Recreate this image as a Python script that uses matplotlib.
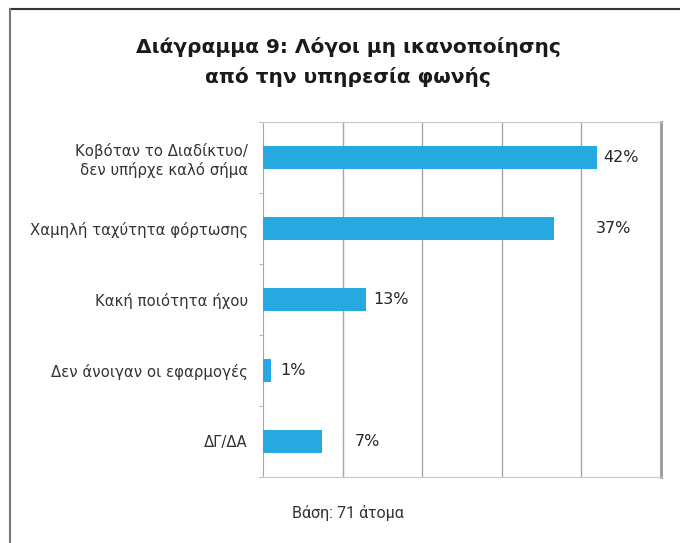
import matplotlib
matplotlib.use("Agg")
import matplotlib.pyplot as plt
from matplotlib.lines import Line2D

# ---- data ----
categories = [
    "Κοβόταν το Διαδίκτυο/\nδεν υπήρχε καλό σήμα",
    "Χαμηλή ταχύτητα φόρτωσης",
    "Κακή ποιότητα ήχου",
    "Δεν άνοιγαν οι εφαρμογές",
    "ΔΓ/ΔΑ",
]
values = [42, 36.6, 13, 1, 7.4]
value_labels = ["42%", "37%", "13%", "1%", "7%"]
label_pad = [4, 30, 5, 7, 24]  # label offset from bar end, in points

title = "Διάγραμμα 9: Λόγοι μη ικανοποίησης\nαπό την υπηρεσία φωνής"
note = "Βάση: 71 άτομα"

BAR_COLOR = "#25a9e0"
GRID_COLOR = "#a6a6a6"

plt.rcParams["font.family"] = ["DejaVu Sans"]

fig = plt.figure(figsize=(6.8, 5.43), dpi=100)
ax = fig.add_axes([263 / 680, 1 - 477 / 543, 398 / 680, 355 / 543])

y = list(range(len(categories)))
ax.barh(y, values, height=0.333, color=BAR_COLOR, zorder=3)

for yi, v, lab, pad in zip(y, values, value_labels, label_pad):
    ax.annotate(lab, (v, yi), xytext=(pad, 0), textcoords="offset points",
                ha="left", va="center", fontsize=11.5, color="#262626")

ax.set_xlim(0, 50)
ax.set_ylim(len(categories) - 0.5, -0.5)
ax.set_xticks([10, 20, 30, 40])
ax.tick_params(axis="x", length=0, labelbottom=False)
ax.grid(axis="x", color=GRID_COLOR, linewidth=1, zorder=0)

ax.set_yticks(y)
ax.set_yticklabels(categories, fontsize=10.7, color="#333333", linespacing=1.25)
ax.set_yticks([i + 0.5 for i in range(-1, len(categories))], minor=True)
ax.tick_params(axis="y", which="major", length=0, pad=11)
ax.tick_params(axis="y", which="minor", length=3, color=GRID_COLOR, direction="out")
for t in ax.get_yticklabels():
    t.set_multialignment("right")

ax.spines["left"].set_color(GRID_COLOR)
ax.spines["top"].set_color("#c8c8c8")
ax.spines["bottom"].set_color("#c8c8c8")
ax.spines["right"].set_color("#999999")
ax.spines["right"].set_linewidth(2)

fig.text(348 / 680, 1 - 62 / 543, title, ha="center", va="center",
         fontsize=14.5, fontweight="bold", color="#1a1a1a", linespacing=1.6)

fig.text(348 / 680, 1 - 513 / 543, note, ha="center", va="center",
         fontsize=11.5, color="#333333", family=["Roboto", "DejaVu Sans"])

# outer frame (top and left only)
fig.add_artist(Line2D([9.5 / 680, 1.0], [1 - 8.5 / 543, 1 - 8.5 / 543],
                      transform=fig.transFigure, color="#333333", linewidth=1.5))
fig.add_artist(Line2D([9.5 / 680, 9.5 / 680], [0, 1 - 8.5 / 543],
                      transform=fig.transFigure, color="#777777", linewidth=1.5))

fig.savefig("out.png", dpi=100)
